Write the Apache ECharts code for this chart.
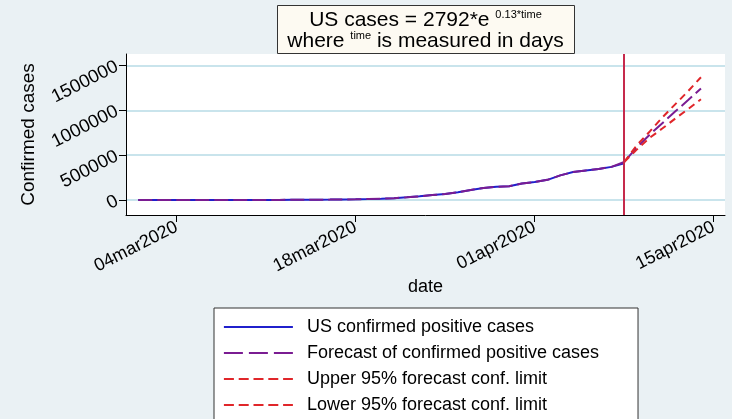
<!DOCTYPE html>
<html><head><meta charset="utf-8">
<script src="https://cdn.jsdelivr.net/npm/echarts@6/dist/echarts.min.js"></script>
<style>html,body{margin:0;padding:0;background:#eaf1f4;}#c{width:732px;height:419px;}</style>
</head><body><div id="c"></div>
<script>
const FONT = '"Liberation Sans", Arial, Helvetica, sans-serif';
// x values are days relative to 04mar2020
const actualStartDay = -3; // 01mar2020
const actualValues = [90,100,125,160,220,320,435,540,700,990,1300,1630,2180,2770,3600,4600,6300,7900,11000,15000,21000,30000,42000,55000,68000,88000,112000,135000,148000,153000,185000,200000,225000,275000,312000,330000,346000,370000,410000];
const forecastStartDay = 35; // 08apr2020
const forecastValues = [425000,590000,730000,860000,990000,1115000,1245000];
const upperValues = [425000,615000,765000,925000,1070000,1215000,1370000];
const lowerValues = [425000,565000,695000,800000,910000,1015000,1125000];
const cutoffDay = 35;
const xTickDays = [0,14,28,42];
const xTickLabels = ['04mar2020','18mar2020','01apr2020','15apr2020'];
const yTickValues = [0,500000,1000000,1500000];
const seriesNames = ['US confirmed positive cases','Forecast of confirmed positive cases','Upper 95% forecast conf. limit','Lower 95% forecast conf. limit'];

const actualData = actualValues.map((v,i)=>[actualStartDay+i, v]);
const histPart = actualValues.slice(0, forecastStartDay - actualStartDay).map((v,i)=>[actualStartDay+i, v]);
const fcData = histPart.concat(forecastValues.map((v,i)=>[forecastStartDay+i, v]));
const upData = upperValues.map((v,i)=>[forecastStartDay+i, v]);
const loData = lowerValues.map((v,i)=>[forecastStartDay+i, v]);

const BLUE='#2020cc', PURPLE='#7a1c92', RED='#e0262a', VLINE='#c62a4c';
const chart = echarts.init(document.getElementById('c'), null, {renderer:'canvas'});
chart.setOption({
  backgroundColor:'#eaf1f4',
  animation:false,
  grid:{left:126,right:7,top:54,bottom:204,show:true,backgroundColor:'#ffffff',borderWidth:0},
  xAxis:{type:'value',min:-3.96,max:42.88,
    axisLine:{show:true,onZero:false,lineStyle:{color:'#000',width:1}},
    axisTick:{show:true,length:7,customValues:xTickDays,lineStyle:{color:'#000'}},
    axisLabel:{customValues:xTickDays,rotate:27,fontSize:18,color:'#000',fontFamily:FONT,margin:11,
      formatter:v=>{const i=xTickDays.indexOf(v);return i>=0?xTickLabels[i]:'';}},
    splitLine:{show:false},
    name:'date',nameLocation:'middle',nameGap:63,nameTextStyle:{fontSize:18,color:'#000',fontFamily:FONT}},
  yAxis:{type:'value',min:-167000,max:1629000,
    axisLine:{show:true,onZero:false,lineStyle:{color:'#000',width:1}},
    axisTick:{show:true,length:7,customValues:yTickValues,lineStyle:{color:'#000'}},
    axisLabel:{customValues:yTickValues,rotate:27,fontSize:18.5,color:'#000',fontFamily:FONT,margin:9,
      formatter:v=>yTickValues.indexOf(v)>=0?String(v):''},
    splitLine:{show:true,lineStyle:{color:'#b7dbe6',width:1.5}},
    name:'Confirmed cases',nameLocation:'middle',nameGap:88,nameRotate:90,nameTextStyle:{fontSize:19,color:'#000',fontFamily:FONT}},
  legend:{orient:'vertical',left:214,top:308,height:200,backgroundColor:'#fff',borderColor:'#333',borderWidth:1,
    padding:[9,39,9,9],itemWidth:69,itemHeight:14,itemGap:6,
    itemStyle:{opacity:0,borderWidth:0},
    textStyle:{fontSize:18,color:'#000',fontFamily:FONT,padding:[0,0,0,9],lineHeight:20},
    data:[
      {name:seriesNames[0],lineStyle:{type:'solid',width:1.8}},
      {name:seriesNames[1],lineStyle:{type:[19,6],width:1.8}},
      {name:seriesNames[2],lineStyle:{type:[10,4.8],width:1.8}},
      {name:seriesNames[3],lineStyle:{type:[10,4.8],width:1.8}}
    ]},
  graphic:[
    {type:'rect',shape:{x:277.5,y:5.5,width:297,height:48},style:{fill:'#fdfaf2',stroke:'#333',lineWidth:1},z:10},
    {type:'text',x:425.5,y:20,z:11,style:{text:'{a|US cases = 2792*e }{s|0.13*time}',align:'center',verticalAlign:'middle',
      rich:{a:{fontSize:21,fontFamily:FONT,fill:'#000',lineHeight:22},s:{fontSize:11,fontFamily:FONT,fill:'#000',lineHeight:11,verticalAlign:'top'}}}},
    {type:'text',x:425.5,y:41,z:11,style:{text:'{a|where }{s|time}{a| is measured in days}',align:'center',verticalAlign:'middle',
      rich:{a:{fontSize:21,fontFamily:FONT,fill:'#000',lineHeight:22},s:{fontSize:11,fontFamily:FONT,fill:'#000',lineHeight:11,verticalAlign:'top'}}}}
  ],
  series:[
    {name:seriesNames[0],type:'line',data:actualData,showSymbol:false,symbol:'none',lineStyle:{color:BLUE,width:2},itemStyle:{color:BLUE},
      markLine:{silent:true,symbol:'none',label:{show:false},lineStyle:{color:VLINE,width:2,type:'solid'},data:[{xAxis:cutoffDay}]}},
    {name:seriesNames[1],type:'line',data:fcData,showSymbol:false,symbol:'none',lineStyle:{color:PURPLE,width:2,type:[14,5]},itemStyle:{color:PURPLE}},
    {name:seriesNames[2],type:'line',data:upData,showSymbol:false,symbol:'none',lineStyle:{color:RED,width:2,type:[7,5]},itemStyle:{color:RED}},
    {name:seriesNames[3],type:'line',data:loData,showSymbol:false,symbol:'none',lineStyle:{color:RED,width:2,type:[7,5]},itemStyle:{color:RED}}
  ]
});
</script></body></html>
